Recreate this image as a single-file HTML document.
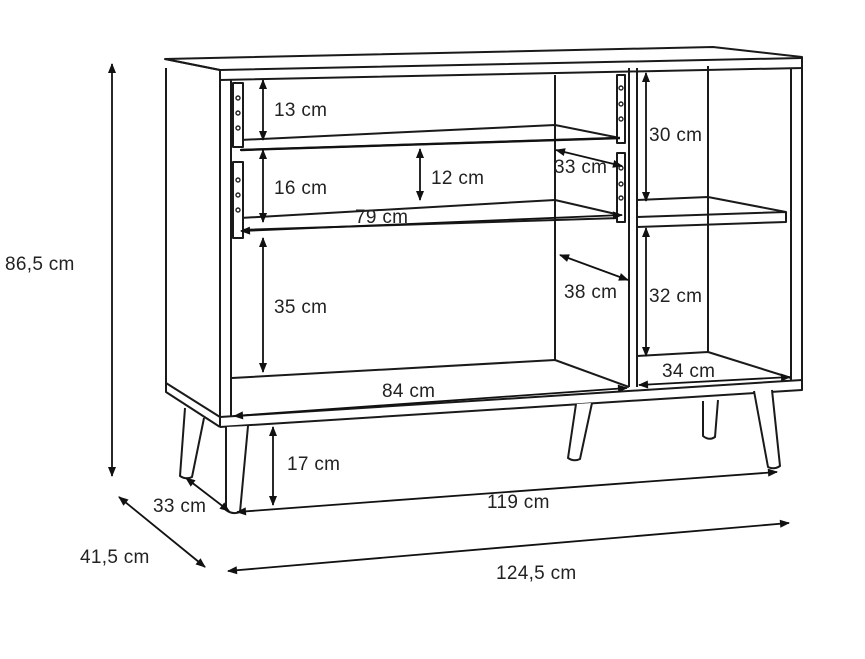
<!DOCTYPE html>
<html><head><meta charset="utf-8"><style>
html,body{margin:0;padding:0;background:#fff;}
svg{display:block;}
text{font-family:"Liberation Sans",sans-serif;font-size:19px;fill:#222;letter-spacing:0.3px;}
</style></head><body>
<svg width="865" height="659" viewBox="0 0 865 659" xmlns="http://www.w3.org/2000/svg">
<defs>
<marker id="a" viewBox="0 0 10 10" refX="9" refY="5" markerWidth="11" markerHeight="10" orient="auto-start-reverse" markerUnits="userSpaceOnUse"><path d="M0,1 L10,5 L0,9 Z" fill="#111"/></marker>
</defs>
<g fill="none" stroke="#1a1a1a" stroke-width="2" stroke-linejoin="round">
<path d="M165,59 L713,47 L802,57 L802,68 L220,80 L220,70 Z" fill="#fff"/>
<path d="M165,59 L220,70 L802,58"/>
<path d="M166,68 L166,392 L220,427 M166,383 L220,417"/>
<path d="M220,80 L220,427 M231,80 L231,417"/>
<path d="M220,417 L802,380 L802,390 L220,427"/>
<path d="M629,68 L629,387 M637,68 L637,387"/>
<path d="M791,68 L791,380 M802,68 L802,380"/>
<path d="M555,75 L555,360 M708,66 L708,352"/>
<path d="M232,378 L555,360 L629,387"/>
<path d="M637,356 L708,352 L791,378"/>
<path d="M240,140 L555,125 L620,138 M240,150 L620,138"/>
<path d="M240,218 L555,200 L620,215 M240,230 L620,218"/>
<path d="M637,200 L708,197 L786,212 L786,222 L637,227 M637,217 L786,212"/>
<rect x="233" y="83" width="10" height="64" fill="#fff"/>
<rect x="233" y="162" width="10" height="76" fill="#fff"/>
<rect x="617" y="75" width="8" height="68" fill="#fff"/>
<rect x="617" y="153" width="8" height="69" fill="#fff"/>
</g>
<g fill="none" stroke="#222" stroke-width="1.4">
<circle cx="238" cy="98" r="2"/><circle cx="238" cy="113" r="2"/><circle cx="238" cy="128" r="2"/>
<circle cx="238" cy="180" r="2"/><circle cx="238" cy="195" r="2"/><circle cx="238" cy="210" r="2"/>
<circle cx="621" cy="88" r="2"/><circle cx="621" cy="104" r="2"/><circle cx="621" cy="119" r="2"/>
<circle cx="621" cy="168" r="2"/><circle cx="621" cy="184" r="2"/><circle cx="621" cy="198" r="2"/>
</g>
<g fill="#fff" stroke="#1a1a1a" stroke-width="2" stroke-linejoin="round">
<path d="M185,408 L180,476 Q186,480 192,477 L204,418"/>
<path d="M226,427 L226,510 Q233,515 240,512 L248,426"/>
<path d="M576,404 L568,458 Q574,462 580,459 L592,403"/>
<path d="M703,401 L703,436 Q709,441 715,437 L718,400"/>
<path d="M754,391 L768,467 Q774,470 780,466 L772,390"/>
</g>
<g stroke="#111" stroke-width="1.8" fill="none" marker-start="url(#a)" marker-end="url(#a)">
<line x1="112" y1="64" x2="112" y2="476"/>
<line x1="119" y1="497" x2="205" y2="567"/>
<line x1="186" y1="478" x2="229" y2="511"/>
<line x1="228" y1="571" x2="789" y2="523"/>
<line x1="237" y1="512" x2="777" y2="472"/>
<line x1="273" y1="427" x2="273" y2="505"/>
<line x1="234" y1="416" x2="627" y2="388"/>
<line x1="639" y1="385" x2="790" y2="377"/>
<line x1="263" y1="238" x2="263" y2="372"/>
<line x1="263" y1="150" x2="263" y2="222"/>
<line x1="263" y1="80" x2="263" y2="140"/>
<line x1="420" y1="149" x2="420" y2="200"/>
<line x1="241" y1="231" x2="622" y2="215"/>
<line x1="556" y1="150" x2="622" y2="166"/>
<line x1="560" y1="255" x2="628" y2="280"/>
<line x1="646" y1="73" x2="646" y2="201"/>
<line x1="646" y1="228" x2="646" y2="356"/>
</g>
<line x1="241" y1="150" x2="620" y2="138" stroke="#111" stroke-width="2.4"/>
<text x="5" y="270">86,5 cm</text>
<text x="80" y="563">41,5 cm</text>
<text x="153" y="512">33 cm</text>
<text x="496" y="579">124,5 cm</text>
<text x="487" y="508">119 cm</text>
<text x="287" y="470">17 cm</text>
<text x="382" y="397">84 cm</text>
<text x="662" y="377">34 cm</text>
<text x="274" y="313">35 cm</text>
<text x="274" y="194">16 cm</text>
<text x="274" y="116">13 cm</text>
<text x="431" y="184">12 cm</text>
<text x="355" y="223">79 cm</text>
<text x="554" y="173">33 cm</text>
<text x="564" y="298">38 cm</text>
<text x="649" y="141">30 cm</text>
<text x="649" y="302">32 cm</text>
</svg>
</body></html>
